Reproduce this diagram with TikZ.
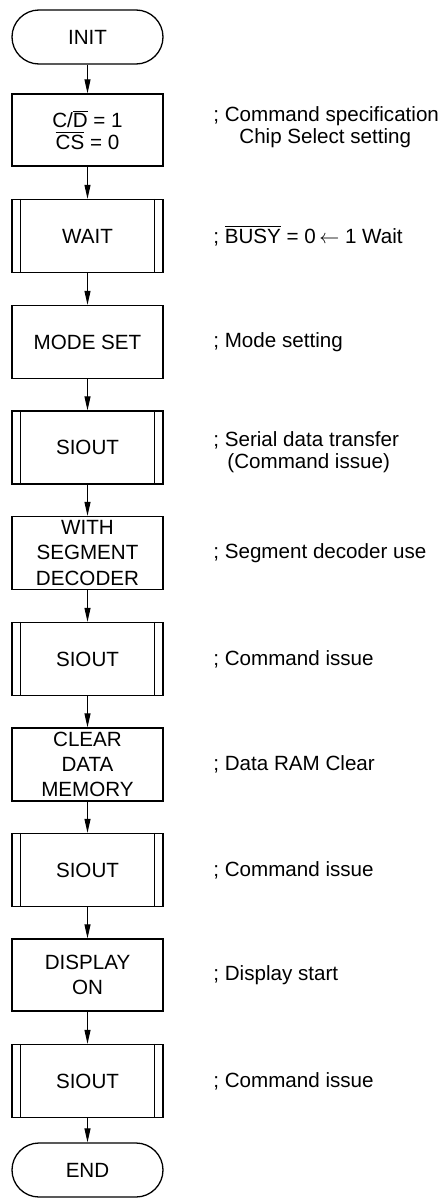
\documentclass[tikz,border=0pt]{standalone}
\usepackage{fontspec}
\setmainfont{Liberation Sans}
\usetikzlibrary{arrows.meta,positioning}
\newcommand{\ovl}[1]{$\overline{\mbox{#1}}$}

\begin{document}
\begin{tikzpicture}[x=0.5pt,y=-0.5pt,
   every node/.style={font=\fontsize{10.3}{12.6}\selectfont},
   box/.style={draw,line width=0.65pt,minimum width=75.5pt,minimum height=36.5pt,
     inner sep=0pt,align=center},
   term/.style={box,minimum height=27pt,rounded corners=13.5pt},
   note/.style={anchor=west,align=left,inner sep=0pt,
     font=\fontsize{10.3}{10.8}\selectfont},
   flow/.style={-{Triangle[length=7pt,width=3pt]},line width=0.5pt}]
\useasboundingbox (0,0) rectangle (443,1199);
% flow chart
\node[term] (init) at (87.5,37) {INIT};
\node[box,minimum height=36pt,font=\fontsize{10.3}{11}\selectfont] (cd) at (87.5,130) {C/\ovl{D} = 1\\ \ovl{CS} = 0};
\node[box] (wait) at (87.5,236) {WAIT};
\node[box] (mode) at (87.5,342) {MODE SET};
\node[box] (sio1) at (87.5,447.5) {SIOUT};
\node[box] (seg) at (87.5,553) {WITH\\ SEGMENT\\ DECODER};
\node[box] (sio2) at (87.5,659) {SIOUT};
\node[box] (clr) at (87.5,764.5) {CLEAR\\ DATA\\ MEMORY};
\node[box] (sio3) at (87.5,870) {SIOUT};
\node[box,minimum height=36pt] (disp) at (87.5,975) {DISPLAY\\ ON};
\node[box] (sio4) at (87.5,1081) {SIOUT};
\node[term] (fin) at (87.5,1170) {END};
% subroutine bars
\foreach \n in {wait,sio1,sio2,sio3,sio4}{
  \draw[line width=0.65pt] ([xshift=4.5pt]\n.north west) -- ([xshift=4.5pt]\n.south west)
    ([xshift=-4.5pt]\n.north east) -- ([xshift=-4.5pt]\n.south east);
}
\foreach \a/\b in {init/cd,cd/wait,wait/mode,mode/sio1,sio1/seg,seg/sio2,
    sio2/clr,clr/sio3,sio3/disp,disp/sio4,sio4/fin}{
  \draw[flow] (\a) -- (\b);
}
% comments
\node[note] (n1) at (213,127) {; Command specification\\ \hspace*{13pt}Chip Select setting};
\node[note] (n2) at (213,236) {; \ovl{BUSY} = 0\,$\leftarrow$ 1 Wait};
\node[note] (n3) at (213,342) {; Mode setting};
\node[note] (n4) at (213,452) {; Serial data transfer\\ \hspace*{7pt}(Command issue)};
\node[note] (n5) at (213,553) {; Segment decoder use};
\node[note] (n6) at (213,659) {; Command issue};
\node[note] (n7) at (213,764.5) {; Data RAM Clear};
\node[note] (n8) at (213,870) {; Command issue};
\node[note] (n9) at (213,975) {; Display start};
\node[note] (n10) at (213,1081) {; Command issue};
\end{tikzpicture}
\end{document}
